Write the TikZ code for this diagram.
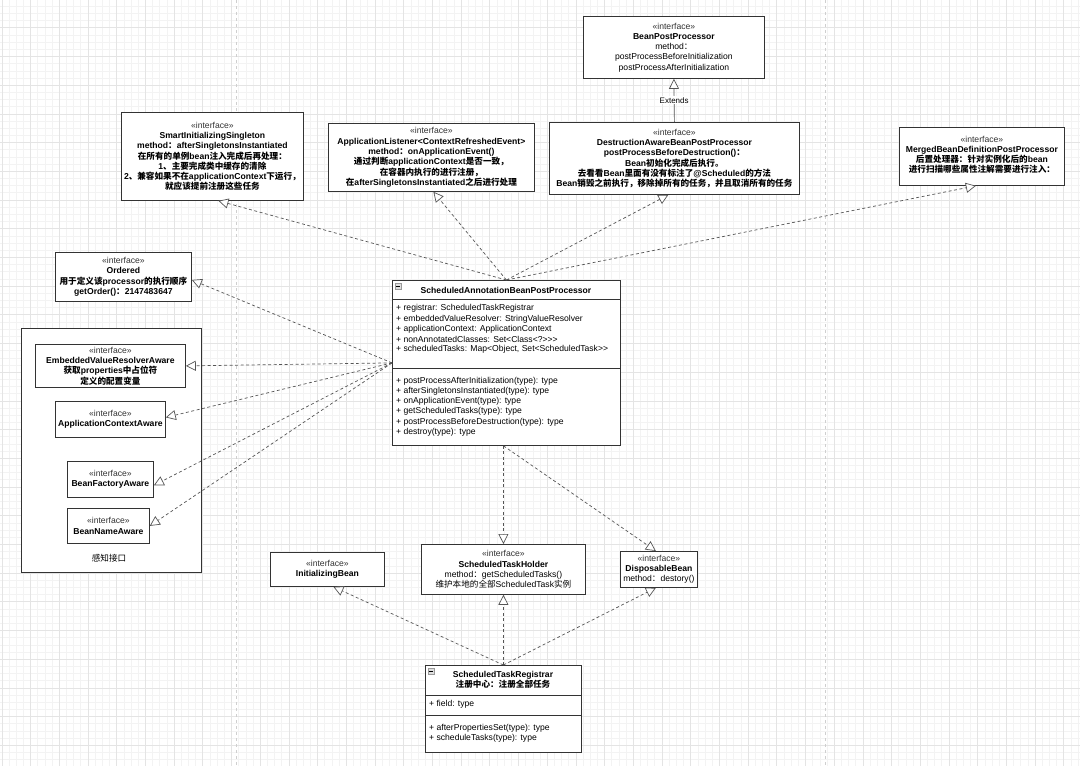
\documentclass[tikz,border=0pt]{standalone}
\usepackage{fontspec}
\setmainfont{Liberation Sans}
\newfontfamily\cjkf{Noto Sans CJK SC}
\newcommand{\zh}[1]{{\cjkf #1}}
\usetikzlibrary{arrows.meta,calc}
\definecolor{boxc}{HTML}{333333}
\definecolor{linec}{HTML}{555555}
\definecolor{gridminor}{HTML}{F3F3F3}
\definecolor{gridmajor}{HTML}{E4E4E4}
\definecolor{pagec}{HTML}{CFCFCF}
\newcommand{\stereo}{{\color{black!80}«interface»}}
\tikzset{
  iface/.style={draw=boxc, fill=white, line width=0.8pt, inner sep=1pt, anchor=north west,
    align=center, font=\fontsize{8.6}{10.3}\selectfont},
  member/.style={anchor=west, inner sep=0pt, font=\fontsize{8.6}{10.3}\selectfont},
  classbox/.style={draw=boxc, fill=white, line width=0.8pt, inner sep=0pt, anchor=north west},
  dep/.style={draw=linec, line width=0.7pt, dash pattern=on 3pt off 2.5pt,
    -{Triangle[length=10pt,width=10pt,fill=white]}},
  ext/.style={draw=linec, line width=0.7pt, -{Triangle[length=10pt,width=10pt,fill=white]}},
  minorline/.style={draw=gridminor, line width=0.5pt},
  majorline/.style={draw=gridmajor, line width=0.6pt},
  icon/.style={draw=gray!80, fill=gray!25, line width=0.4pt, minimum size=6pt, inner sep=0pt},
}
\begin{document}
\begin{tikzpicture}[x=1pt,y=-1pt]
\fill[white] (0,0) rectangle (1080,766);
\useasboundingbox (0,0) rectangle (1080,766);
% background grid
\foreach \i in {0,...,151} {\draw[minorline] (1.8+\i*7.175,0) -- (1.8+\i*7.175,766);}
\foreach \j in {0,...,107} {\draw[minorline] (0,-1+\j*7.175) -- (1080,-1+\j*7.175);}
\foreach \i in {0,...,37} {\draw[majorline] (1.8+\i*28.7,0) -- (1.8+\i*28.7,766);}
\foreach \j in {0,...,27} {\draw[majorline] (0,-1+\j*28.7) -- (1080,-1+\j*28.7);}
\draw[pagec, line width=0.7pt, dash pattern=on 3pt off 3pt] (236,0) -- (236,766);
\draw[pagec, line width=0.7pt, dash pattern=on 3pt off 3pt] (825,0) -- (825,766);

% group box
\node[classbox, minimum width=180pt, minimum height=244pt] (group) at (21,328) {};
\node[font=\fontsize{8.6}{10.3}\selectfont] (grouplabel) at (109,558) {\zh{感知接口}};

% interfaces
\node[iface, minimum width=181pt, minimum height=62pt] (bpp) at (583,16)
  {\stereo\\\textbf{BeanPostProcessor}\\method\zh{：}\\postProcessBeforeInitialization\\postProcessAfterInitialization};

\node[iface, minimum width=182pt, minimum height=88pt] (smart) at (121,112)
  {\stereo\\\textbf{SmartInitializingSingleton}\\
   \textbf{method\zh{：}afterSingletonsInstantiated}\\
   \textbf{\zh{在所有的单例}bean\zh{注入完成后再处理：}}\\
   \textbf{1\zh{、主要完成类中缓存的清除}}\\
   \textbf{2\zh{、兼容如果不在}applicationContext\zh{下运行，}}\\
   \textbf{\zh{就应该提前注册这些任务}}};

\node[iface, minimum width=206pt, minimum height=68pt] (applis) at (328,123)
  {\stereo\\\textbf{ApplicationListener<ContextRefreshedEvent>}\\
   \textbf{method\zh{：}onApplicationEvent()}\\
   \textbf{\zh{通过判断}applicationContext\zh{是否一致，}}\\
   \textbf{\zh{在容器内执行的进行注册，}}\\
   \textbf{\zh{在}afterSingletonsInstantiated\zh{之后进行处理}}};

\node[iface, minimum width=250pt, minimum height=72pt] (dest) at (549,122)
  {\stereo\\\textbf{DestructionAwareBeanPostProcessor}\\
   \textbf{postProcessBeforeDestruction()\zh{：}}\\
   \textbf{Bean\zh{初始化完成后执行。}}\\
   \textbf{\zh{去看看}Bean\zh{里面有没有标注了}@Scheduled\zh{的方法}}\\
   \textbf{Bean\zh{销毁之前执行，移除掉所有的任务，并且取消所有的任务}}};

\node[iface, minimum width=165pt, minimum height=58pt, text depth=4pt] (merged) at (899,127)
  {\stereo\\\textbf{MergedBeanDefinitionPostProcessor}\\
   \textbf{\zh{后置处理器：针对实例化后的}bean}\\
   \textbf{\zh{进行扫描哪些属性注解需要进行注入：}}};

\node[iface, minimum width=136pt, minimum height=49pt] (ordered) at (55,252)
  {\stereo\\\textbf{Ordered}\\
   \textbf{\zh{用于定义该}processor\zh{的执行顺序}}\\
   \textbf{getOrder()\zh{：}2147483647}};

\node[iface, minimum width=150pt, minimum height=43pt] (embedded) at (35,344)
  {\stereo\\\textbf{EmbeddedValueResolverAware}\\
   \textbf{\zh{获取}properties\zh{中占位符}}\\
   \textbf{\zh{定义的配置变量}}};

\node[iface, minimum width=110pt, minimum height=36pt] (appctx) at (55,401)
  {\stereo\\\textbf{ApplicationContextAware}};

\node[iface, minimum width=86pt, minimum height=36pt] (bfa) at (67,461)
  {\stereo\\\textbf{BeanFactoryAware}};

\node[iface, minimum width=82pt, minimum height=35pt] (bna) at (67,508)
  {\stereo\\\textbf{BeanNameAware}};

\node[iface, minimum width=114pt, minimum height=34pt] (initb) at (270,552)
  {\stereo\\\textbf{InitializingBean}};

\node[iface, minimum width=164pt, minimum height=50pt] (holder) at (421,544)
  {\stereo\\\textbf{ScheduledTaskHolder}\\
   method\zh{：}getScheduledTasks()\\
   \zh{维护本地的全部}ScheduledTask\zh{实例}};

\node[iface, minimum width=77pt, minimum height=36pt] (disp) at (620,551)
  {\stereo\\\textbf{DisposableBean}\\method\zh{：}destory()};

% ScheduledAnnotationBeanPostProcessor class
\node[classbox, minimum width=228pt, minimum height=165pt] (sabpp) at (392,280) {};
\draw[boxc, line width=0.8pt] (392,299) -- (620,299);
\draw[boxc, line width=0.8pt] (392,368) -- (620,368);
\node[icon] (sabppicon) at (398,286) {};
\draw[black, line width=0.5pt] (396.2,286) -- (399.8,286);
\node[font=\bfseries\fontsize{8.6}{10.3}\selectfont, inner sep=0pt] (sabpptitle) at (506,290)
  {ScheduledAnnotationBeanPostProcessor};
\node[member] (a1) at (396,308.5) {+ registrar: ScheduledTaskRegistrar};
\node[member] (a2) at (396,318.8) {+ embeddedValueResolver: StringValueResolver};
\node[member] (a3) at (396,329.1) {+ applicationContext: ApplicationContext};
\node[member] (a4) at (396,339.4) {+ nonAnnotatedClasses: Set<Class<?>{}>{}>};
\node[member] (a5) at (396,349.7) {+ scheduledTasks: Map<Object, Set<ScheduledTask>{}>};
\node[member] (m1) at (396,381) {+ postProcessAfterInitialization(type): type};
\node[member] (m2) at (396,391.2) {+ afterSingletonsInstantiated(type): type};
\node[member] (m3) at (396,401.4) {+ onApplicationEvent(type): type};
\node[member] (m4) at (396,411.6) {+ getScheduledTasks(type): type};
\node[member] (m5) at (396,421.8) {+ postProcessBeforeDestruction(type): type};
\node[member] (m6) at (396,432) {+ destroy(type): type};

% ScheduledTaskRegistrar class
\node[classbox, minimum width=156pt, minimum height=87pt] (reg) at (425,665) {};
\draw[boxc, line width=0.8pt] (425,695) -- (581,695);
\draw[boxc, line width=0.8pt] (425,715) -- (581,715);
\node[icon] (regicon) at (431,671) {};
\draw[black, line width=0.5pt] (429.2,671) -- (432.8,671);
\node[font=\bfseries\fontsize{8.6}{10.3}\selectfont, inner sep=0pt, align=center] (regtitle) at (503,680)
  {ScheduledTaskRegistrar\\\zh{注册中心：注册全部任务}};
\node[member] (r1) at (429,704.5) {+ field: type};
\node[member] (r2) at (429,728.5) {+ afterPropertiesSet(type): type};
\node[member] (r3) at (429,738.5) {+ scheduleTasks(type): type};

% connectors
\draw[dep] (sabpp.north) -- ([xshift=6pt]smart.south);
\draw[dep] (sabpp.north) -- ([xshift=2pt]applis.south);
\draw[dep] (sabpp.north) -- ([xshift=-6pt]dest.south);
\draw[dep] (sabpp.north) -- ([xshift=-6pt]merged.south);
\draw[dep] (sabpp.west) -- ([yshift=-3pt]ordered.east);
\draw[dep] (sabpp.west) -- (embedded.east);
\draw[dep] (sabpp.west) -- ([yshift=2pt]appctx.east);
\draw[dep] (sabpp.west) -- ([yshift=-6pt]bfa.east);
\draw[dep] (sabpp.west) -- (bna.east);
\draw[dep] ([xshift=-3pt]sabpp.south) -- (holder.north);
\draw[dep] ([xshift=-3pt]sabpp.south) -- ([xshift=-3pt]disp.north);
\draw[dep] (reg.north) -- ([xshift=6pt]initb.south);
\draw[dep] (reg.north) -- (holder.south);
\draw[dep] (reg.north) -- ([xshift=-3pt]disp.south);
\draw[ext] (dest.north) -- node[fill=white, inner sep=1pt, font=\fontsize{8}{9}\selectfont] (extl) {Extends} (bpp.south);
\end{tikzpicture}
\end{document}
